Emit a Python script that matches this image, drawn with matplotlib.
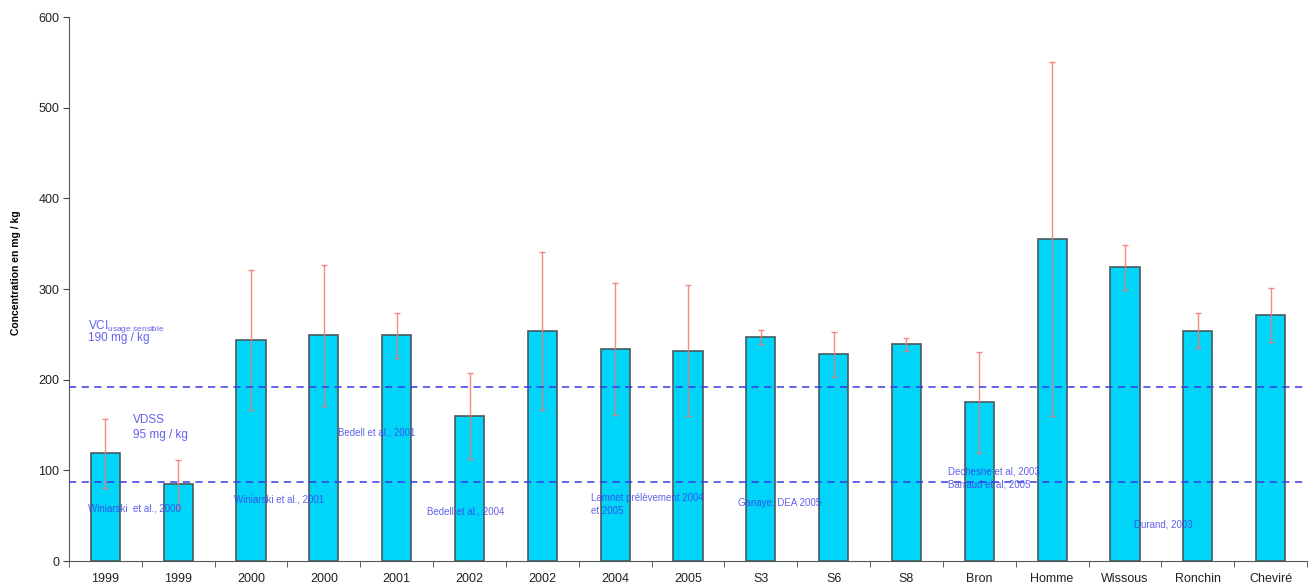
import matplotlib
matplotlib.use("Agg")
import matplotlib.pyplot as plt
import numpy as np

plt.rcParams['font.family'] = ['Liberation Sans', 'DejaVu Sans']

categories = ["1999", "1999", "2000", "2000", "2001", "2002", "2002", "2004", "2005",
              "S3", "S6", "S8", "Bron", "Homme", "Wissous", "Ronchin", "Cheviré"]
values = [119, 85, 244, 249, 249, 160, 254, 234, 232, 247, 228, 239, 175, 355, 324, 254, 271]
errors = [38, 26, 77, 78, 25, 47, 87, 73, 72, 8, 25, 7, 56, 195, 25, 19, 30]
vci_level = 192
vdss_level = 87
yticks = [0, 100, 200, 300, 400, 500, 600]

fig = plt.figure(figsize=(13.09, 5.86), dpi=100)
ax = fig.add_axes([69/1309, 1-561/586, (1307-69)/1309, (561-17)/586])

x = np.arange(len(categories))
ax.bar(x, values, width=0.4, color='#00d4f8', edgecolor='#4a5a5e', linewidth=1.2, zorder=2)
ax.errorbar(x, values, yerr=errors, fmt='none', ecolor='#f07870', elinewidth=1.0,
            capsize=2.5, capthick=1.0, zorder=3, alpha=0.85)

ax.axhline(vci_level, color='#3a3ae8', linestyle=(0, (4, 3)), linewidth=1.3, zorder=4, alpha=0.85)
ax.axhline(vdss_level, color='#3a3ae8', linestyle=(0, (4, 3)), linewidth=1.3, zorder=4, alpha=0.85)

ax.set_xlim(-0.5, len(categories) - 0.5)
ax.set_ylim(0, 600)
ax.set_yticks(yticks)
ax.set_yticklabels([str(t) for t in yticks], fontsize=9, color='#222222')
ax.set_xticks(x)
ax.set_xticklabels(categories, fontsize=9, color='#222222')
ax.tick_params(axis='x', which='major', length=0, pad=9)
ax.set_xticks(np.arange(-0.5, len(categories), 1.0), minor=True)
ax.tick_params(axis='x', which='minor', length=4, direction='out', color='#444444')
ax.tick_params(axis='y', length=4, color='#444444', pad=3)
for s in ['top', 'right']:
    ax.spines[s].set_visible(False)
ax.spines['left'].set_color('#555555')
ax.spines['bottom'].set_color('#555555')

ax.set_ylabel("Concentration en mg / kg", fontsize=7.5, fontweight='bold')
ax.yaxis.set_label_coords(-0.039, 0.53)

def px(xp, yp):
    return ((xp - 69) / 72.8 - 0.5, (561 - yp) / 0.9067)

blue = '#3a3ae8'
small = dict(color=blue, fontsize=7.0, alpha=0.8, va='center', ha='left', zorder=5)
xa, ya = px(88, 326)
ax.text(xa, ya, r"VCI$_{\mathregular{usage\ sensible}}$", color=blue, fontsize=8.5, alpha=0.8, va='center', ha='left')
xa, ya = px(88, 338)
ax.text(xa, ya, "190 mg / kg", color=blue, fontsize=8.5, alpha=0.8, va='center', ha='left')
xa, ya = px(133, 420)
ax.text(xa, ya, "VDSS", color=blue, fontsize=8.5, alpha=0.8, va='center', ha='left')
xa, ya = px(133, 435)
ax.text(xa, ya, "95 mg / kg", color=blue, fontsize=8.5, alpha=0.8, va='center', ha='left')

notes = [
    (88, 508, "Winiarski  et al., 2000"),
    (234, 499, "Winiarski et al., 2001"),
    (338, 432, "Bedell et al., 2001"),
    (427, 511, "Bedell et al., 2004"),
    (591, 498, "Lamnet prélèvement 2004"),
    (591, 511, "et 2005"),
    (738, 503, "Ganaye, DEA 2005"),
    (948, 471, "Dechesne et al, 2003"),
    (948, 484, "Barraud et al, 2005"),
    (1134, 524, "Durand, 2003"),
]
for xp, yp, t in notes:
    xa, ya = px(xp, yp)
    ax.text(xa, ya, t, **small)

fig.savefig("out.png", dpi=100)
